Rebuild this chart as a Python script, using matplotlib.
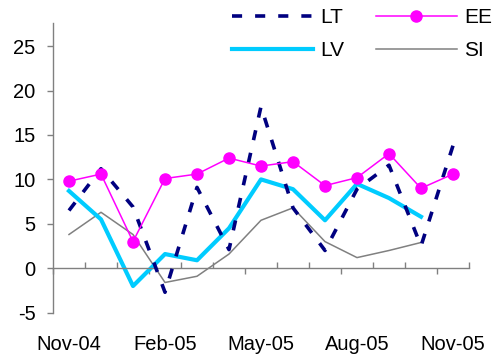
import numpy as np
import matplotlib
matplotlib.use("Agg")
import matplotlib.pyplot as plt

plt.rcParams['font.family'] = ['Liberation Sans', 'DejaVu Sans']
plt.rcParams['axes.unicode_minus'] = False

# monthly rates, Nov-04 .. Nov-05
months = ['Nov-04', 'Dec-04', 'Jan-05', 'Feb-05', 'Mar-05', 'Apr-05', 'May-05',
          'Jun-05', 'Jul-05', 'Aug-05', 'Sep-05', 'Oct-05', 'Nov-05']
lt = [6.5, 11.2, 6.9, -2.7, 9.1, 2.1, 18.2, 6.8, 2.0, 8.9, 11.6, 2.5, 13.8]
ee = [9.8, 10.6, 3.0, 10.1, 10.6, 12.4, 11.5, 12.0, 9.3, 10.2, 12.9, 9.0, 10.6]
lv = [8.7, 5.5, -2.0, 1.6, 0.9, 4.5, 10.0, 8.9, 5.4, 9.5, 7.9, 5.8]
si = [3.8, 6.3, 3.8, -1.6, -0.9, 1.6, 5.4, 6.8, 3.0, 1.2, 2.0, 2.9]

x = np.arange(len(months))

fig = plt.figure(figsize=(4.92, 3.58), dpi=100)
ax = fig.add_axes([53 / 492, 1 - 312.7 / 358, 416 / 492, (312.7 - 23) / 358])

ax.plot(x, lt, color='#000080', lw=2.6, dashes=(2.8, 3.6), dash_capstyle='butt',
        label='LT', zorder=3)
ax.plot(x[:len(lv)], lv, color='#00CCFF', lw=3.0, label='LV', zorder=2)
ax.plot(x, ee, color='#FF00FF', lw=1.1, marker='o', ms=8, label='EE', zorder=4)
ax.plot(x[:len(si)], si, color='#808080', lw=1.1, label='SI', zorder=1)

ax.set_xlim(-0.5, len(months) - 0.5)
ax.set_ylim(-5, 27.6)
ax.set_yticks(np.arange(-5, 26, 5))

for s in ['top', 'right']:
    ax.spines[s].set_visible(False)
ax.spines['bottom'].set_position(('data', 0))
for s in ['left', 'bottom']:
    ax.spines[s].set_color('#808080')
    ax.spines[s].set_linewidth(1.0)

# category boundaries: long ticks every quarter, short ones in between
bounds = np.arange(-0.5, len(months), 1.0)
ax.set_xticks(bounds[::3])
ax.set_xticks([b for i, b in enumerate(bounds) if i % 3], minor=True)
ax.tick_params(axis='x', which='major', direction='out', length=4, width=1,
               color='#808080', labelbottom=False)
ax.tick_params(axis='x', which='minor', direction='in', length=4, width=1,
               color='#808080')
ax.tick_params(axis='y', direction='out', length=4.5, width=1, color='#808080',
               pad=8, labelsize=14.5)

# month names sit under the plot area, not under the zero line
sec = ax.secondary_xaxis(-0.02)
sec.set_xticks(x[::3], [months[i] for i in x[::3]])
sec.spines['bottom'].set_visible(False)
sec.tick_params(length=0, pad=12, labelsize=14.5)

fig.legend(loc='upper left', bbox_to_anchor=(232 / 492, 1 - 8 / 358), ncol=2,
           frameon=False, fontsize=15, handlelength=3.9, handletextpad=0.34,
           columnspacing=1.5, labelspacing=0.68, borderaxespad=0, borderpad=0)

fig.savefig('out.png', dpi=100)
